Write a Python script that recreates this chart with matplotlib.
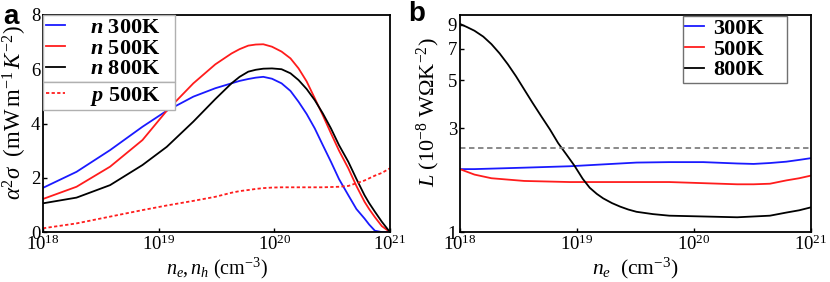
import numpy as np
import matplotlib
matplotlib.use("Agg")
import matplotlib.pyplot as plt
from matplotlib.lines import Line2D
from matplotlib.ticker import FixedLocator, NullLocator, LogFormatterMathtext

plt.rcParams['font.family'] = ['Liberation Serif', 'DejaVu Serif']
plt.rcParams['mathtext.fontset'] = 'custom'
plt.rcParams['mathtext.rm'] = 'Liberation Serif'
plt.rcParams['mathtext.it'] = 'Liberation Serif:italic'
plt.rcParams['mathtext.bf'] = 'Liberation Serif:bold'
plt.rcParams['mathtext.bfit'] = 'Liberation Serif:italic:bold'

# panel a: power factor vs carrier density (log10 of cm^-3)
a_logn = [18.0, 18.29, 18.58, 18.86, 19.07, 19.30, 19.49, 19.63, 19.70, 19.775,
          19.84, 19.905, 19.98, 20.063, 20.14, 20.21, 20.28, 20.35, 20.42, 20.49,
          20.56, 20.64, 20.71, 20.78, 20.82, 20.87, 20.93, 21.0]
pf_n300 = [1.63, 2.22, 3.02, 3.88, 4.47, 4.99, 5.30, 5.48, 5.57, 5.64,
           5.69, 5.72, 5.65, 5.48, 5.20, 4.80, 4.35, 3.82, 3.20, 2.59,
           1.95, 1.36, 0.85, 0.50, 0.28, 0.05, 0.0, 0.0]
pf_n500 = [1.22, 1.67, 2.41, 3.39, 4.47, 5.48, 6.18, 6.58, 6.74, 6.87,
           6.91, 6.92, 6.83, 6.65, 6.40, 6.03, 5.55, 4.93, 4.30, 3.64,
           3.00, 2.35, 1.70, 1.12, 0.85, 0.55, 0.22, 0.0]
pf_n800 = [1.06, 1.27, 1.73, 2.47, 3.14, 4.07, 4.90, 5.48, 5.72, 5.91,
           5.98, 6.02, 6.03, 6.00, 5.85, 5.60, 5.27, 4.86, 4.37, 3.82,
           3.20, 2.59, 1.96, 1.36, 1.07, 0.75, 0.38, 0.0]
pf_p500 = [0.14, 0.32, 0.57, 0.81, 0.98, 1.15, 1.30, 1.45, 1.51, 1.55,
           1.59, 1.62, 1.64, 1.65, 1.65, 1.65, 1.65, 1.65, 1.65, 1.66,
           1.67, 1.70, 1.80, 1.90, 1.98, 2.08, 2.18, 2.35]

# panel b: Lorenz number vs electron density
b_logn = [18.0, 18.125, 18.27, 18.55, 18.94, 19.225, 19.51, 19.79, 20.08,
          20.37, 20.51, 20.65, 20.79, 20.9, 21.0]
L_300 = [1.95, 1.95, 1.96, 1.98, 2.01, 2.05, 2.09, 2.10, 2.10,
         2.07, 2.06, 2.08, 2.11, 2.15, 2.19]
L_500 = [1.95, 1.84, 1.77, 1.72, 1.70, 1.70, 1.70, 1.70, 1.68,
         1.66, 1.66, 1.67, 1.73, 1.77, 1.82]
b_logn_800 = [18.0, 18.06, 18.125, 18.2, 18.27, 18.34, 18.41, 18.48, 18.55,
              18.62, 18.695, 18.77, 18.84, 18.91, 18.98, 19.05, 19.11, 19.17,
              19.225, 19.3, 19.37, 19.44, 19.51, 19.65, 19.79, 20.08, 20.37,
              20.65, 20.79, 20.9, 21.0]
L_800 = [9.1, 8.8, 8.46, 7.95, 7.34, 6.65, 5.93, 5.22, 4.54,
         3.95, 3.42, 2.97, 2.57, 2.28, 2.02, 1.76, 1.60, 1.50,
         1.43, 1.36, 1.31, 1.27, 1.24, 1.21, 1.19, 1.18, 1.17,
         1.19, 1.23, 1.26, 1.30]
L_sommerfeld = 2.44

blue = '#1a1aff'
red = '#ff1c1c'
fig = plt.figure(figsize=(8.3, 2.82), dpi=100)
ax1 = fig.add_axes([0.0518, 0.177, 0.418, 0.770])
ax2 = fig.add_axes([0.554, 0.177, 0.423, 0.770])

lw = 1.3
dot = (0, (1.8, 1.3))
xa = 10.0 ** np.array(a_logn)
ax1.plot(xa, pf_n300, color=blue, lw=lw)
ax1.plot(xa, pf_n500, color=red, lw=lw)
ax1.plot(xa, pf_n800, color='black', lw=lw)
ax1.plot(xa, pf_p500, color=red, lw=lw, ls=dot)
ax1.set_xscale('log')
ax1.set_xlim(1e18, 1e21)
ax1.set_ylim(0, 8)
ax1.set_yticks([0, 2, 4, 6, 8])
ax1.set_ylabel(r'$\alpha^2\sigma\ \ (\mathrm{mW\,m}^{-1}\,K^{-2})$', fontsize=16.5)
ax1.yaxis.set_label_coords(-0.04, 0.55)
ax1.set_xlabel(r'$n_e, n_h\ (\mathrm{cm}^{-3})$', fontsize=14.5, labelpad=1)

ax2.plot(10.0 ** np.array(b_logn), L_300, color=blue, lw=lw)
ax2.plot(10.0 ** np.array(b_logn), L_500, color=red, lw=lw)
ax2.plot(10.0 ** np.array(b_logn_800), L_800, color='black', lw=lw)
ax2.axhline(L_sommerfeld, color='#808080', lw=1.3, ls=(0, (3, 2)))
ax2.set_xscale('log')
ax2.set_yscale('log')
ax2.set_xlim(1e18, 1e21)
ax2.set_ylim(1, 10)
ax2.yaxis.set_major_locator(FixedLocator([1, 3, 5, 7, 9]))
ax2.yaxis.set_minor_locator(NullLocator())
ax2.set_yticklabels(['1', '3', '5', '7', '9'])
ax2.set_ylabel(r'$L\ (10^{-8}\ \mathrm{W\Omega K}^{-2})$', fontsize=16)
ax2.yaxis.set_label_coords(-0.05, 0.55)
ax2.set_xlabel(r'$n_e\ \ (\mathrm{cm}^{-3})$', fontsize=15.5, labelpad=1)

for ax in (ax1, ax2):
    ax.xaxis.set_major_locator(FixedLocator([1e18, 1e19, 1e20, 1e21]))
    ax.xaxis.set_major_formatter(LogFormatterMathtext())
    ax.xaxis.set_minor_locator(NullLocator())
    ax.tick_params(direction='in', length=3, width=1, labelsize=13.5, pad=2)
    for s in ax.spines.values():
        s.set_linewidth(1.3)

# legends
leg_kw = dict(prop={'weight': 'bold', 'size': 16}, frameon=True, fancybox=False,
              framealpha=1, handlelength=0.85, labelspacing=0.0,
              borderpad=0.12, borderaxespad=0, mode='expand')
h1 = [Line2D([], [], color=blue, lw=lw),
      Line2D([], [], color=red, lw=lw),
      Line2D([], [], color='black', lw=lw)]
leg1 = ax1.legend(h1, [r'$\mathbfit{n}$ 300K', r'$\mathbfit{n}$ 500K', r'$\mathbfit{n}$ 800K'],
                  loc='upper left', bbox_to_anchor=(0, 0.7, 0.38, 0.3),
                  edgecolor='#b0b0b0', handletextpad=1.15, **leg_kw)
ax1.add_artist(leg1)

# second box sits right under the first one
fig.canvas.draw()
bb = leg1.get_window_extent().transformed(ax1.transAxes.inverted())
h2 = [Line2D([], [], color=red, lw=lw, ls=dot)]
ax1.legend(h2, [r'$\mathbfit{p}$ 500K'], loc='upper left',
           bbox_to_anchor=(0, bb.y0 - 0.1, 0.38, 0.1), edgecolor='#b0b0b0',
           handletextpad=1.15, **leg_kw)

ax2.legend(h1, ['300K', '500K', '800K'], loc='upper left',
           bbox_to_anchor=(0.635, 0.6, 0.296, 0.395), edgecolor='#707070',
           handletextpad=0.4, **leg_kw)

fig.text(0.004, 0.985, 'a', family='Liberation Sans', weight='bold', fontsize=20, va='top')
fig.text(0.492, 0.995, 'b', family='Liberation Sans', weight='bold', fontsize=20, va='top')

fig.savefig('out.png', dpi=100)
